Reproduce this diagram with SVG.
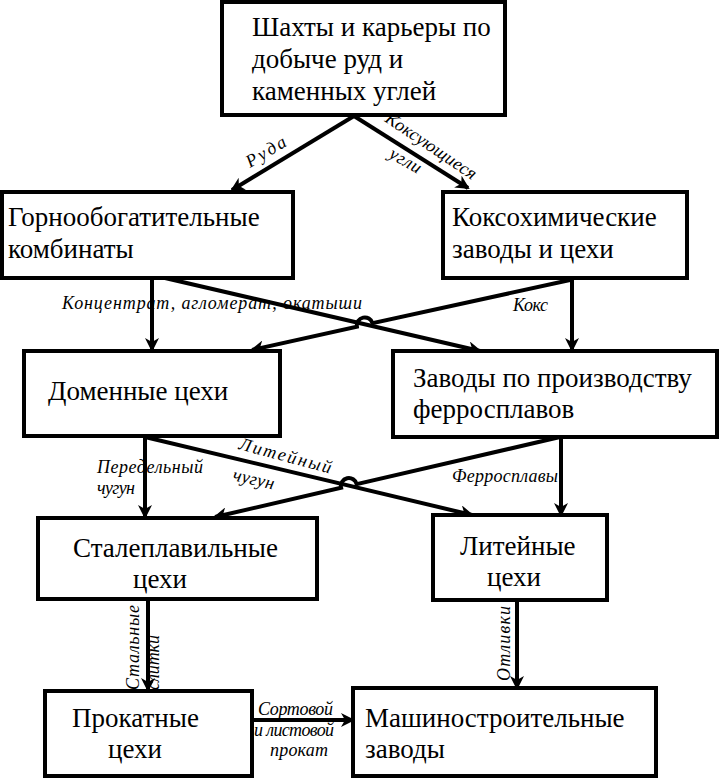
<svg xmlns="http://www.w3.org/2000/svg" width="720" height="779" viewBox="0 0 720 779" font-family="Liberation Serif, Times New Roman, Tinos, DejaVu Serif, serif">
<style>
.box{fill:#fff;stroke:#000;stroke-width:4}
.t{font-size:27px;fill:#000}
.l{font-style:italic;font-size:18px;fill:#000}
.c{fill:none;stroke:#000;stroke-width:4}
</style>
<defs>
<marker id="ah" markerUnits="userSpaceOnUse" markerWidth="16" markerHeight="14" refX="12" refY="7" orient="auto">
<path d="M0,0 L14,7 L0,14 L4,7 Z" fill="#000"/>
</marker>
</defs>
<rect width="720" height="779" fill="#fff"/>
<g id="connectors">
<path class="c" d="M354,116 L232,190" marker-end="url(#ah)"/>
<path class="c" d="M354,116 L468,188" marker-end="url(#ah)"/>
<path class="c" d="M152,278 L152,350" marker-end="url(#ah)"/>
<path class="c" d="M165,278 L480,351" marker-end="url(#ah)"/>
<path class="c" d="M570,280 L372.5,323.2 A8,8 0 0 0 356.9,326.6 L252,350" marker-end="url(#ah)"/>
<path class="c" d="M572,278 L572,350" marker-end="url(#ah)"/>
<path class="c" d="M145,437 L145,517" marker-end="url(#ah)"/>
<path class="c" d="M145,437 L472,515" marker-end="url(#ah)"/>
<path class="c" d="M560,437 L356.7,484.2 A8,8 0 0 0 341.1,487.8 L215,517" marker-end="url(#ah)"/>
<path class="c" d="M561,437 L561,515" marker-end="url(#ah)"/>
<path class="c" d="M148,600 L148,690" marker-end="url(#ah)"/>
<path class="c" d="M517,600 L517,688" marker-end="url(#ah)"/>
<path class="c" d="M252,720 L353,720" marker-end="url(#ah)"/>
</g>
<g id="labels">
<text class="l" font-size="20" textLength="44" transform="translate(250,168) rotate(-31)">Руда</text>
<text class="l" textLength="106" transform="translate(384,121) rotate(34)">Коксующиеся</text>
<text class="l" textLength="34" transform="translate(388,157) rotate(30)">угли</text>
<text class="l" textLength="300" x="62" y="309">Концентрат,  агломерат,  окатыши</text>
<text class="l" textLength="35" x="513" y="311">Кокс</text>
<text class="l" textLength="106" x="97" y="473">Передельный</text>
<text class="l" textLength="38" x="97" y="494">чугун</text>
<text class="l" textLength="95" transform="translate(238,449) rotate(15)">Литейный</text>
<text class="l" textLength="42" transform="translate(232,480) rotate(13)">чугун</text>
<text class="l" textLength="106" x="452" y="482">Ферросплавы</text>
<text class="l" textLength="85" transform="translate(139,690) rotate(-90)">Стальные</text>
<text class="l" textLength="55" transform="translate(159,690) rotate(-90)">слитки</text>
<text class="l" textLength="75" transform="translate(510,681) rotate(-90)">Отливки</text>
<text class="l" font-size="16" textLength="75" x="258" y="715">Сортовой</text>
<text class="l" font-size="16" textLength="80" x="254" y="736">и листовой</text>
<text class="l" font-size="16" textLength="58" x="270" y="756">прокат</text>
</g>
<g id="n-shakhty"><rect class="box" x="222" y="2" width="283" height="113"/>
<text class="t" x="252" y="36">Шахты и карьеры по</text><text class="t" x="252" y="68">добыче руд и</text><text class="t" x="252" y="100">каменных углей</text></g>
<g id="n-gorno"><rect class="box" x="2" y="192" width="291" height="86"/>
<text class="t" x="8" y="226">Горнообогатительные</text><text class="t" x="8" y="258">комбинаты</text></g>
<g id="n-koks"><rect class="box" x="443" y="192" width="244" height="86"/>
<text class="t" x="452" y="226">Коксохимические</text><text class="t" x="452" y="258">заводы и цехи</text></g>
<g id="n-domen"><rect class="box" x="24" y="351" width="256" height="85"/>
<text class="t" x="48" y="400">Доменные цехи</text></g>
<g id="n-ferro"><rect class="box" x="393" y="351" width="324" height="86"/>
<text class="t" x="413" y="387">Заводы по производству</text><text class="t" x="413" y="418">ферросплавов</text></g>
<g id="n-stal"><rect class="box" x="38" y="518" width="279" height="81"/>
<text class="t" x="73" y="557">Сталеплавильные</text><text class="t" x="133" y="588">цехи</text></g>
<g id="n-lit"><rect class="box" x="433" y="515" width="174" height="85"/>
<text class="t" x="460" y="555">Литейные</text><text class="t" x="487" y="586">цехи</text></g>
<g id="n-prokat"><rect class="box" x="45" y="691" width="207" height="85"/>
<text class="t" x="72" y="727">Прокатные</text><text class="t" x="108" y="758">цехи</text></g>
<g id="n-mash"><rect class="box" x="353" y="688" width="303" height="88"/>
<text class="t" x="365" y="727">Машиностроительные</text><text class="t" x="365" y="758">заводы</text></g>
</svg>
